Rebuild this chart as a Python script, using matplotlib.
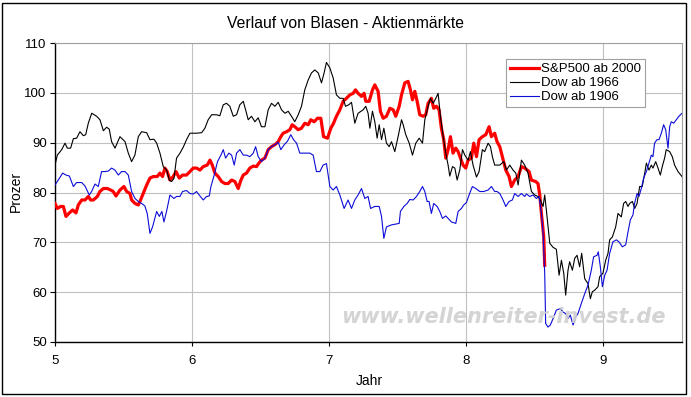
import matplotlib
matplotlib.use("Agg")
import matplotlib.pyplot as plt
from matplotlib.patches import Rectangle

plt.rcParams['font.family'] = ['Liberation Sans', 'DejaVu Sans']

title = "Verlauf von Blasen - Aktienmärkte"
xlabel = "Jahr"
ylabel = "Prozer"
series_names = ["S&P500 ab 2000", "Dow ab 1966", "Dow ab 1906"]
xticks = [5, 6, 7, 8, 9]
yticks = [50, 60, 70, 80, 90, 100, 110]

# S&P500 ab 2000 (red)
sp_x = [5.000, 5.017, 5.041, 5.061, 5.080, 5.105, 5.129, 5.153, 5.170, 5.195, 5.219, 5.243, 5.260, 5.280,
        5.309, 5.328, 5.353, 5.382, 5.406, 5.425, 5.445, 5.474, 5.503, 5.523, 5.547, 5.559, 5.584, 5.608,
        5.620, 5.644, 5.669, 5.693, 5.717, 5.746, 5.766, 5.785, 5.802, 5.819, 5.839, 5.863, 5.883, 5.907,
        5.931, 5.960, 5.985, 6.009, 6.033, 6.058, 6.082, 6.111, 6.131, 6.148,
        6.167, 6.191, 6.216, 6.240, 6.264, 6.289, 6.313, 6.337, 6.357, 6.374, 6.398, 6.422, 6.447, 6.471,
        6.488, 6.507, 6.532, 6.556, 6.580, 6.605, 6.629, 6.648, 6.665, 6.690, 6.714, 6.731, 6.750, 6.775,
        6.799, 6.823, 6.848, 6.867, 6.891, 6.916, 6.940, 6.960, 6.989, 7.013, 7.033, 7.054, 7.079, 7.103,
        7.127, 7.152, 7.176, 7.193, 7.212, 7.237, 7.256,
        7.268, 7.293, 7.317, 7.334, 7.358, 7.375, 7.395, 7.419, 7.444, 7.468, 7.487, 7.512, 7.529, 7.553,
        7.577, 7.594, 7.609, 7.626, 7.643, 7.662, 7.687, 7.706, 7.723, 7.747, 7.764, 7.784, 7.803, 7.820,
        7.837, 7.852, 7.869, 7.886, 7.905, 7.925, 7.942, 7.959, 7.978, 7.998, 8.015, 8.039, 8.056, 8.076,
        8.095, 8.119, 8.144, 8.168, 8.185, 8.209, 8.226, 8.246, 8.265, 8.290, 8.314, 8.331, 8.355, 8.380,
        8.404, 8.428, 8.460, 8.477, 8.508, 8.525, 8.538, 8.550, 8.567, 8.574]
sp_y = [77.8, 76.8, 77.2, 77.2, 75.2, 75.9, 76.5, 75.9, 77.5, 78.5, 78.5, 79.2, 78.5, 78.5,
        79.2, 80.2, 80.8, 80.8, 80.5, 80.2, 79.3, 80.5, 81.2, 80.2, 79.8, 78.5, 77.8, 77.5,
        78.2, 79.8, 81.5, 82.9, 83.2, 83.2, 83.9, 83.2, 84.9, 84.2, 82.5, 83.2, 84.2, 82.9,
        83.5, 83.5, 84.2, 84.9, 84.9, 84.5, 85.2, 85.5, 86.5, 85.5,
        83.9, 83.2, 82.2, 81.8, 81.8, 82.5, 82.2, 80.8, 82.5, 83.5, 83.9, 84.9, 85.3, 85.2,
        85.9, 86.5, 86.9, 88.6, 89.2, 89.6, 90.2, 91.2, 91.9, 92.2, 92.6, 93.6, 93.2, 92.6,
        92.9, 93.9, 93.6, 94.6, 94.2, 94.9, 94.9, 91.2, 90.9, 92.9, 93.9, 95.3, 96.6, 98.3,
        98.9, 99.6, 99.9, 100.6, 99.9, 99.3, 99.9,
        98.3, 98.3, 100.6, 101.6, 100.3, 96.3, 94.9, 95.3, 96.9, 96.6, 95.3, 97.3, 99.6, 102.0,
        102.3, 100.6, 98.6, 100.3, 98.3, 95.6, 95.3, 95.6, 97.9, 98.9, 96.9, 97.3, 96.6, 92.9,
        90.6, 86.9, 88.6, 91.2, 87.9, 88.9, 88.2, 86.9, 85.5, 84.9, 86.5, 86.9, 89.9, 87.2,
        90.6, 91.2, 91.6, 93.2, 91.2, 91.9, 90.2, 89.2, 87.2, 84.5, 83.2, 81.2, 82.5, 83.2,
        85.2, 84.9, 84.2, 82.5, 82.2, 81.8, 79.5, 75.8, 71.1, 65.4]

# Dow ab 1966 (black)
d66_x = [5.000, 5.017, 5.049, 5.073, 5.090, 5.114, 5.134, 5.158, 5.182, 5.207, 5.224, 5.243, 5.268, 5.304,
         5.328, 5.353, 5.377, 5.396, 5.413, 5.438, 5.474, 5.511, 5.535, 5.559, 5.583, 5.608, 5.632, 5.669,
         5.693, 5.722, 5.742, 5.766, 5.790, 5.815, 5.834, 5.851, 5.868, 5.887, 5.912, 5.936, 5.960, 5.985,
         6.034, 6.070,
         6.094, 6.118, 6.143, 6.179, 6.203, 6.228, 6.252, 6.276, 6.301, 6.325, 6.349, 6.374, 6.391, 6.410,
         6.434, 6.459, 6.483, 6.507, 6.532, 6.556, 6.580, 6.605, 6.629, 6.653, 6.678, 6.702, 6.726, 6.750,
         6.775, 6.799, 6.823, 6.848, 6.872, 6.896, 6.921, 6.945, 6.964, 6.981, 7.006, 7.030, 7.054, 7.079,
         7.103, 7.120, 7.144, 7.164, 7.188, 7.212,
         7.249, 7.268, 7.285, 7.298, 7.317, 7.334, 7.351, 7.366, 7.383, 7.400, 7.419, 7.439, 7.456, 7.480,
         7.504, 7.529, 7.541, 7.560, 7.585, 7.609, 7.633, 7.658, 7.682, 7.699, 7.723, 7.740, 7.760, 7.779,
         7.796, 7.813, 7.833, 7.852, 7.869, 7.881, 7.901, 7.918, 7.935, 7.954, 7.974, 7.991, 8.015, 8.032,
         8.051, 8.076, 8.095, 8.119, 8.136, 8.161, 8.178, 8.192, 8.209, 8.246, 8.275, 8.295, 8.319, 8.343,
         8.363, 8.380, 8.404, 8.428,
         8.452, 8.477, 8.501, 8.525, 8.542, 8.562, 8.574, 8.586, 8.611, 8.635, 8.659, 8.679, 8.696, 8.713,
         8.727, 8.744, 8.756, 8.776, 8.793, 8.810, 8.829, 8.844, 8.866, 8.890, 8.907, 8.922, 8.939, 8.963,
         8.975, 8.999, 9.019, 9.036, 9.048, 9.068, 9.092, 9.109, 9.133, 9.150, 9.165, 9.182, 9.194, 9.214,
         9.231, 9.248, 9.267, 9.286, 9.304, 9.316, 9.335, 9.352, 9.364, 9.384, 9.401, 9.418, 9.432, 9.449,
         9.461, 9.486, 9.505, 9.522, 9.547, 9.576]
d66_y = [85.5, 87.5, 88.6, 89.9, 88.9, 88.9, 90.8, 90.9, 92.2, 91.4, 91.6, 93.9, 95.9, 95.3,
         94.6, 92.4, 93.1, 92.7, 90.2, 88.9, 91.2, 90.2, 87.9, 86.2, 87.5, 91.2, 92.2, 92.0,
         90.6, 90.7, 89.9, 87.9, 85.2, 84.5, 82.5, 82.2, 82.8, 86.9, 87.9, 89.1, 90.6, 91.9,
         91.9, 92.0,
         92.9, 94.6, 95.6, 95.6, 95.4, 97.6, 97.9, 97.3, 95.3, 95.6, 97.6, 98.3, 96.6, 94.6,
         95.3, 94.2, 95.0, 93.2, 93.2, 96.6, 97.9, 97.3, 98.1, 96.6, 95.9, 96.3, 95.3, 94.2,
         95.6, 97.3, 100.6, 102.6, 104.0, 104.6, 104.0, 102.0, 104.0, 106.1, 105.0, 103.0, 99.6, 98.9,
         98.9, 97.3, 97.6, 98.1, 93.9, 95.9,
         96.6, 97.3, 95.9, 92.9, 96.3, 94.2, 90.9, 93.6, 90.6, 92.9, 89.9, 89.2, 90.2, 88.2,
         91.2, 94.6, 93.6, 91.6, 89.9, 87.5, 89.9, 90.9, 89.9, 94.6, 97.3, 98.9, 97.9, 98.9,
         99.9, 95.3, 91.2, 87.9, 85.5, 83.3, 85.2, 84.9, 82.5, 84.5, 88.6, 87.5, 86.5, 88.2,
         85.5, 83.1, 84.2, 88.6, 88.2, 89.9, 89.2, 87.2, 85.5, 85.5, 86.2, 84.5, 85.5, 84.5,
         83.9, 81.5, 86.5, 85.5,
         83.9, 80.2, 79.5, 79.2, 78.5, 77.2, 79.5, 76.5, 69.8, 69.0, 68.6, 63.4, 66.4, 63.8,
         59.4, 64.4, 66.1, 64.4, 66.8, 67.4, 65.1, 67.8, 62.7, 61.7, 58.7, 60.1, 60.4, 61.1,
         63.1, 63.8, 66.4, 67.8, 70.5, 71.1, 73.1, 75.8, 75.1, 77.8, 78.2, 77.2, 77.8, 78.2,
         76.8, 77.8, 81.2, 81.2, 83.9, 85.9, 84.5, 85.5, 84.9, 86.2, 84.9, 83.5, 85.2, 86.9,
         88.6, 88.2, 87.2, 85.5, 84.2, 83.2]

# Dow ab 1906 (blue)
d06_x = [5.000, 5.024, 5.056, 5.080, 5.105, 5.134, 5.158, 5.195, 5.219, 5.250, 5.267, 5.292, 5.316, 5.340,
         5.365, 5.389, 5.413, 5.438, 5.462, 5.486, 5.511, 5.535, 5.559, 5.584, 5.608, 5.632, 5.656, 5.673,
         5.693, 5.712, 5.742, 5.761, 5.780, 5.795, 5.814, 5.839, 5.868, 5.887, 5.912, 5.931, 5.960, 5.985,
         6.009, 6.033, 6.058, 6.082, 6.106, 6.126,
         6.138, 6.162, 6.186, 6.211, 6.228, 6.245, 6.269, 6.289, 6.308, 6.325, 6.349, 6.374, 6.398, 6.422,
         6.447, 6.464, 6.483, 6.507, 6.532, 6.556, 6.580, 6.605, 6.629, 6.648, 6.673, 6.697, 6.721, 6.741,
         6.763, 6.787, 6.823, 6.860, 6.884, 6.908, 6.933, 6.957, 6.981, 7.006, 7.030, 7.054, 7.079, 7.110,
         7.139, 7.164, 7.188, 7.212, 7.237,
         7.261, 7.285, 7.303, 7.334, 7.366, 7.383, 7.400, 7.419, 7.456, 7.492, 7.512, 7.521, 7.546, 7.570,
         7.589, 7.614, 7.638, 7.662, 7.682, 7.699, 7.716, 7.730, 7.747, 7.764, 7.789, 7.808, 7.828, 7.852,
         7.869, 7.893, 7.925, 7.942, 7.966, 7.983, 8.003, 8.022, 8.046, 8.071, 8.100, 8.129, 8.161, 8.185,
         8.209, 8.226, 8.246, 8.270, 8.290, 8.314, 8.338, 8.355, 8.380, 8.404, 8.428,
         8.440, 8.465, 8.489, 8.513, 8.533, 8.550, 8.562, 8.574, 8.581, 8.598, 8.615, 8.635, 8.659, 8.688,
         8.708, 8.727, 8.744, 8.761, 8.781, 8.800, 8.817, 8.841, 8.866, 8.890, 8.914, 8.931, 8.956, 8.965,
         8.980, 8.995, 9.012, 9.029, 9.048, 9.072, 9.097, 9.116, 9.141, 9.165, 9.182, 9.199, 9.218, 9.230,
         9.248, 9.262, 9.279, 9.296, 9.316, 9.335, 9.352, 9.364, 9.376, 9.393, 9.408, 9.425, 9.442, 9.457,
         9.474, 9.486, 9.498, 9.515, 9.534, 9.554, 9.576]
d06_y = [81.5, 82.5, 83.9, 83.5, 83.3, 81.2, 82.0, 82.0, 81.3, 79.5, 80.2, 81.7, 81.2, 84.2,
         84.2, 84.3, 84.9, 84.5, 83.5, 84.2, 84.2, 83.5, 80.2, 78.8, 78.2, 77.8, 77.3, 75.8,
         71.8, 73.1, 76.2, 75.2, 76.2, 74.1, 76.2, 79.5, 78.8, 79.2, 79.2, 80.2, 80.4, 79.8,
         79.7, 80.2, 79.3, 78.5, 79.2, 79.3,
         81.2, 83.5, 86.2, 87.5, 88.6, 86.9, 87.9, 87.5, 85.5, 87.9, 88.6, 87.5, 87.5, 87.2,
         87.9, 89.2, 87.2, 86.2, 86.9, 88.6, 89.2, 89.6, 90.1, 88.6, 89.6, 90.3, 91.6, 90.6,
         89.9, 87.9, 87.9, 87.9, 87.5, 84.2, 84.2, 85.5, 85.8, 81.2, 80.5, 81.2, 79.5, 76.8,
         78.5, 76.8, 78.5, 79.5, 80.8,
         78.8, 79.2, 76.8, 77.2, 77.2, 75.2, 70.8, 73.1, 73.5, 73.7, 73.8, 76.2, 77.2, 77.8,
         78.6, 78.5, 79.2, 80.2, 81.2, 80.2, 78.2, 78.2, 75.8, 77.8, 77.2, 76.2, 74.8, 75.3,
         74.8, 74.1, 73.8, 76.2, 76.8, 77.5, 78.0, 79.5, 81.2, 80.8, 80.2, 80.2, 80.5, 81.2,
         80.2, 80.2, 79.8, 78.5, 77.2, 78.2, 78.5, 79.8, 79.2, 79.8, 79.2,
         79.7, 79.2, 79.5, 78.8, 79.2, 75.8, 71.8, 63.8, 53.7, 53.0, 53.4, 54.7, 56.4, 56.7,
         56.0, 55.7, 54.7, 55.4, 53.4, 55.0, 55.7, 57.7, 59.7, 61.4, 64.4, 67.1, 67.4, 68.1,
         65.1, 61.1, 63.4, 64.4, 67.8, 70.1, 70.5, 70.1, 69.1, 69.5, 72.1, 74.5, 75.5, 77.8,
         79.8, 79.2, 80.8, 82.9, 84.2, 85.9, 87.5, 87.2, 89.9, 90.6, 90.6, 91.9, 93.6, 92.6,
         88.9, 93.2, 94.2, 93.9, 94.6, 95.3, 95.9]

W, H = 691, 397
fig = plt.figure(figsize=(W / 100, H / 100), dpi=100)
fig.patch.set_facecolor('white')

L, R, T, B = 55, 682, 43, 342
ax = fig.add_axes([L / W, 1 - B / H, (R - L) / W, (B - T) / H])
ax.set_xlim(5, 9.576)
ax.set_ylim(50, 110)
ax.set_xticks(xticks)
ax.set_yticks(yticks)
ax.grid(True, color='#c0c0c0', linewidth=0.8, zorder=0)
ax.set_axisbelow(True)

ax.plot(sp_x, sp_y, color='#ff0000', linewidth=2.3, label=series_names[0], zorder=3, solid_joinstyle='round')
ax.plot(d66_x, d66_y, color='black', linewidth=0.8, label=series_names[1], zorder=4)
ax.plot(d06_x, d06_y, color='#0c0cd8', linewidth=0.8, label=series_names[2], zorder=5)

for s in ['left', 'bottom']:
    ax.spines[s].set_color('black')
    ax.spines[s].set_linewidth(1.0)
for s in ['top', 'right']:
    ax.spines[s].set_color('#a0a0a0')
    ax.spines[s].set_linewidth(0.8)

ax.tick_params(axis='y', direction='out', length=3.6, width=0.8, pad=2.4, labelsize=9.5, colors='black')
ax.tick_params(axis='x', direction='out', length=3.0, width=0.8, pad=6.2, labelsize=9.5, colors='black')

leg = ax.legend(loc='upper left', bbox_to_anchor=(506 / W, 1 - 59.3 / H), bbox_transform=fig.transFigure,
                fontsize=9.5, frameon=True, fancybox=False, framealpha=1, edgecolor='#a0a0a0',
                handlelength=2.2, handletextpad=0.15, borderpad=0.3, labelspacing=0.12, borderaxespad=0)
leg.get_frame().set_linewidth(0.8)
leg.set_zorder(10)

fig.text(0.5, 1 - 28.3 / H, title, ha='center', va='baseline', fontsize=11.3)
fig.text(369 / W, 1 - 385 / H, xlabel, ha='center', va='baseline', fontsize=10)
fig.text(20 / W, 1 - 191 / H, ylabel, ha='center', va='baseline', rotation=90,
         rotation_mode='anchor', fontsize=10)

fig.text(503.4 / W, 1 - 323.3 / H, "www.wellenreiter-invest.de", ha='center', va='baseline',
         fontsize=15, family='DejaVu Sans', style='oblique', weight='bold', color='#d0d0d0',
         alpha=0.9, zorder=20)

fig.patches.append(Rectangle((2 / W, 1 - 393.5 / H), 684 / W, 390.5 / H, transform=fig.transFigure,
                             fill=False, edgecolor='black', linewidth=1.0))

fig.savefig('out.png', dpi=100)
